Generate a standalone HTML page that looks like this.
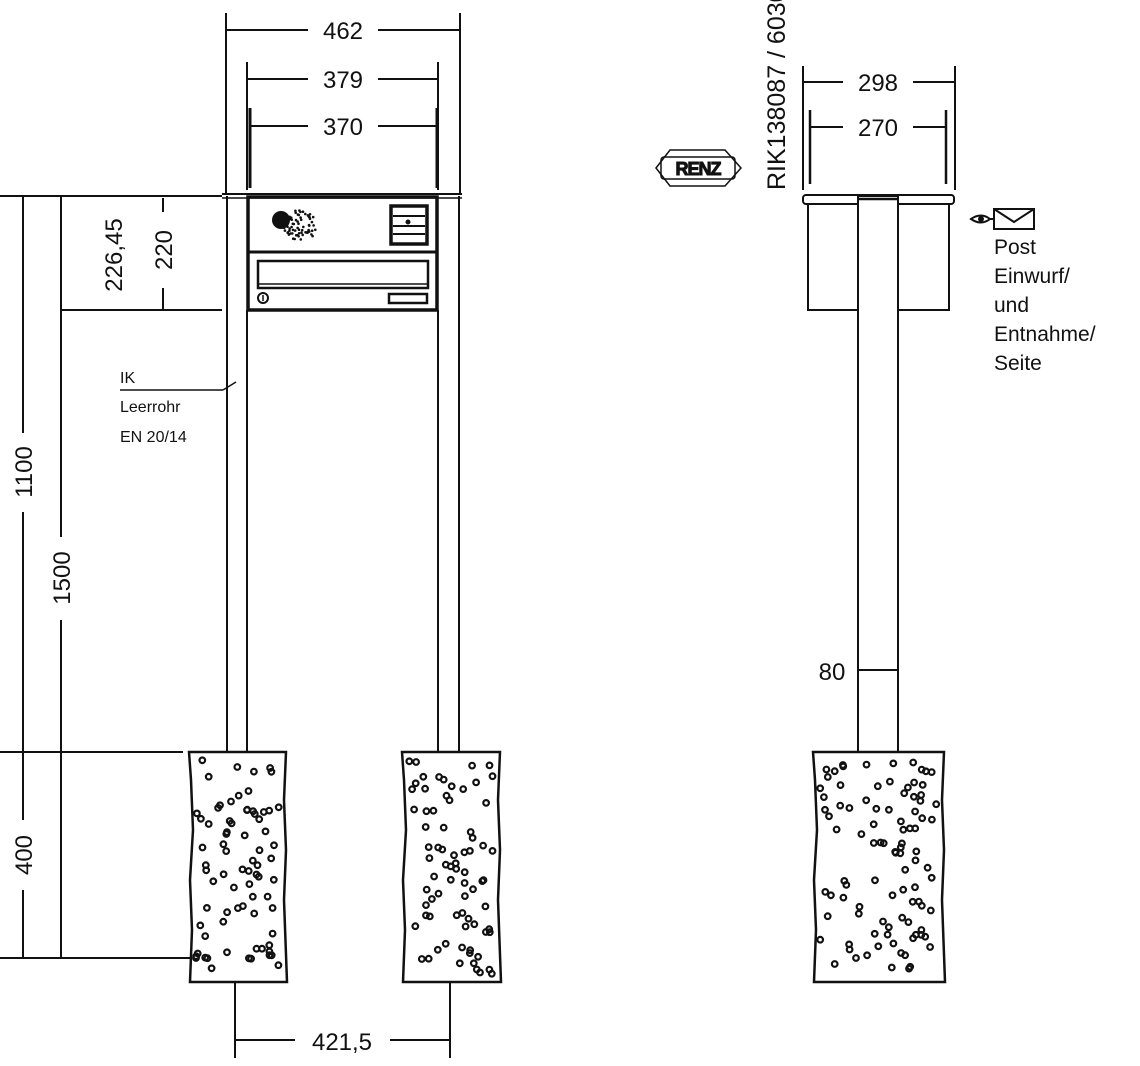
<!DOCTYPE html>
<html><head><meta charset="utf-8">
<style>
html,body{margin:0;padding:0;background:#fff;}
svg{display:block;}
text{font-family:"Liberation Sans",sans-serif;fill:#111;}
</style></head>
<body>
<svg id="s" width="1140" height="1066" viewBox="0 0 1140 1066" xmlns="http://www.w3.org/2000/svg">
<g stroke="#111" fill="none" stroke-width="2">
<line x1="226" y1="13" x2="226" y2="195"/>
<line x1="460" y1="13" x2="460" y2="195"/>
<line x1="227" y1="30" x2="308" y2="30"/><line x1="378" y1="30" x2="459" y2="30"/>
<line x1="247" y1="62" x2="247" y2="190"/>
<line x1="438" y1="62" x2="438" y2="190"/>
<line x1="248" y1="79" x2="308" y2="79"/><line x1="378" y1="79" x2="437" y2="79"/>
<line x1="250" y1="108" x2="250" y2="188" stroke-width="3"/>
<line x1="437" y1="108" x2="437" y2="188" stroke-width="3"/>
<line x1="251" y1="126" x2="308" y2="126"/><line x1="378" y1="126" x2="436" y2="126"/>
<line x1="0" y1="196" x2="222" y2="196"/>
<line x1="61" y1="310" x2="222" y2="310"/>
<line x1="0" y1="752" x2="183" y2="752"/>
<line x1="0" y1="958" x2="220" y2="958"/>
<line x1="23" y1="196" x2="23" y2="433"/><line x1="23" y1="512" x2="23" y2="752"/>
<line x1="23" y1="752" x2="23" y2="820"/><line x1="23" y1="890" x2="23" y2="958"/>
<line x1="61" y1="196" x2="61" y2="537"/><line x1="61" y1="620" x2="61" y2="958"/>
<line x1="163" y1="198" x2="163" y2="212"/><line x1="163" y1="288" x2="163" y2="310"/>
<line x1="120" y1="390" x2="223" y2="390" stroke-width="1.5"/>
<line x1="223" y1="390" x2="236" y2="382" stroke-width="1.5"/>
<line x1="227" y1="196" x2="227" y2="752"/>
<line x1="247" y1="310" x2="247" y2="752"/>
<line x1="438" y1="310" x2="438" y2="752"/>
<line x1="459" y1="196" x2="459" y2="752"/>
<line x1="222" y1="194" x2="462" y2="194"/>
<line x1="222" y1="198" x2="462" y2="198" stroke-width="1.5"/>
<rect x="248" y="197" width="189" height="113" stroke-width="3.5"/>
<line x1="248" y1="252" x2="437" y2="252" stroke-width="3"/>
<rect x="258" y="261" width="170" height="27" stroke-width="2.5"/>
<line x1="258" y1="284" x2="428" y2="284" stroke-width="1.5"/>
<rect x="389" y="294" width="38" height="9" stroke-width="2.5"/>
<circle cx="263" cy="298" r="5" stroke-width="2"/>
<line x1="263" y1="295" x2="263" y2="301" stroke-width="1.5"/>
<rect x="391" y="206" width="36" height="38" stroke-width="3.5"/>
<line x1="393" y1="216" x2="425" y2="216" stroke-width="2"/>
<line x1="393" y1="226" x2="425" y2="226" stroke-width="2"/>
<line x1="393" y1="234" x2="425" y2="234" stroke-width="2"/>
<circle cx="408" cy="222" r="1.5" fill="#111"/>
<line x1="235" y1="982" x2="235" y2="1058"/>
<line x1="450" y1="982" x2="450" y2="1058"/>
<line x1="236" y1="1040" x2="295" y2="1040"/><line x1="390" y1="1040" x2="449" y2="1040"/>
<line x1="803" y1="66" x2="803" y2="190"/>
<line x1="955" y1="66" x2="955" y2="190"/>
<line x1="804" y1="82" x2="843" y2="82"/><line x1="913" y1="82" x2="954" y2="82"/>
<line x1="810" y1="110" x2="810" y2="184" stroke-width="2.5"/>
<line x1="946" y1="110" x2="946" y2="184" stroke-width="2.5"/>
<line x1="811" y1="127" x2="843" y2="127"/><line x1="913" y1="127" x2="945" y2="127"/>
<rect x="803" y="195" width="151" height="9" rx="3"/>
<rect x="808" y="204" width="141" height="106"/>
<rect x="858" y="196" width="40" height="556" fill="#fff"/>
<line x1="859" y1="199" x2="897" y2="199" stroke-width="2.5"/>
<line x1="858" y1="670" x2="898" y2="670"/>
<rect x="994" y="209" width="40" height="20" stroke-width="2"/>
<polyline points="994,209 1014,222 1034,209" stroke-width="2"/>
<path d="M971 219 Q981 212 990 219 Q981 226 971 219 Z" stroke-width="2"/>
<circle cx="981" cy="219" r="2" fill="#111"/>
<line x1="990" y1="219" x2="994" y2="219"/>
<path d="M189 752 L286 752 L284 800 L286 850 L284 900 L287 982 L190 982 L192 930 L190 880 L193 830 L191 780 Z" stroke-width="2.5" fill="#fff"/>
<path d="M402 752 L500 752 L498 800 L500 850 L498 900 L501 982 L403 982 L405 930 L403 880 L406 830 L404 780 Z" stroke-width="2.5" fill="#fff"/>
<path d="M813 752 L944 752 L942 800 L944 850 L942 900 L945 982 L814 982 L816 930 L814 880 L817 830 L815 780 Z" stroke-width="2.5" fill="#fff"/>
<path d="M656 168 L670 150 L725 150 L741 168 L725 186 L670 186 Z" stroke-width="1.5"/>
<rect x="661" y="157" width="74" height="22" rx="3" stroke-width="1.5"/>
</g>
<g id="dots" stroke="#111" stroke-width="2.2" fill="none"></g>
<g fill="#111" id="spk"></g>
<g font-size="24">
<text x="343" y="39" text-anchor="middle">462</text>
<text x="343" y="88" text-anchor="middle">379</text>
<text x="343" y="135" text-anchor="middle">370</text>
<text x="878" y="91" text-anchor="middle">298</text>
<text x="878" y="136" text-anchor="middle">270</text>
<text x="342" y="1050" text-anchor="middle">421,5</text>
<text x="832" y="680" text-anchor="middle">80</text>
<text transform="translate(32,472) rotate(-90)" text-anchor="middle">1100</text>
<text transform="translate(70,578) rotate(-90)" text-anchor="middle">1500</text>
<text transform="translate(32,855) rotate(-90)" text-anchor="middle">400</text>
<text transform="translate(122,255) rotate(-90)" text-anchor="middle">226,45</text>
<text transform="translate(172,250) rotate(-90)" text-anchor="middle">220</text>
<text transform="translate(785,190) rotate(-90)" font-size="25">RIK138087 / 6030</text>
</g>
<g font-size="16">
<text x="120" y="383">IK</text>
<text x="120" y="412">Leerrohr</text>
<text x="120" y="442">EN 20/14</text>
</g>
<g font-size="21">
<text x="994" y="254">Post</text>
<text x="994" y="283">Einwurf/</text>
<text x="994" y="312">und</text>
<text x="994" y="341">Entnahme/</text>
<text x="994" y="370">Seite</text>
</g>
<text x="698" y="175" text-anchor="middle" font-size="18" font-weight="bold" fill="#fff" stroke="#111" stroke-width="1" style="letter-spacing:-1px">RENZ</text>
</svg>
<script>
var seed=7;function r(){seed=(seed*16807)%2147483647;return seed/2147483647;}
var ns="http://www.w3.org/2000/svg",g=document.getElementById("dots");
[[189,286],[402,500],[813,944]].forEach(function(f){
 var n=f[1]-f[0]>110?95:75;
 for(var i=0;i<n;i++){var c=document.createElementNS(ns,"circle");
 c.setAttribute("cx",(f[0]+7+r()*(f[1]-f[0]-14)).toFixed(1));
 c.setAttribute("cy",(760+r()*215).toFixed(1));
 c.setAttribute("r","2.8");g.appendChild(c);}
});
var s=document.getElementById("spk");
for(var i=0;i<70;i++){var a=r()*6.283,d=Math.sqrt(r())*17;var c=document.createElementNS(ns,"circle");
c.setAttribute("cx",(300+Math.cos(a)*d).toFixed(1));c.setAttribute("cy",(227+Math.sin(a)*d).toFixed(1));c.setAttribute("r","1.3");s.appendChild(c);}
var c=document.createElementNS(ns,"circle");c.setAttribute("cx","281");c.setAttribute("cy","220");c.setAttribute("r","9");s.appendChild(c);
</script>
</body></html>
